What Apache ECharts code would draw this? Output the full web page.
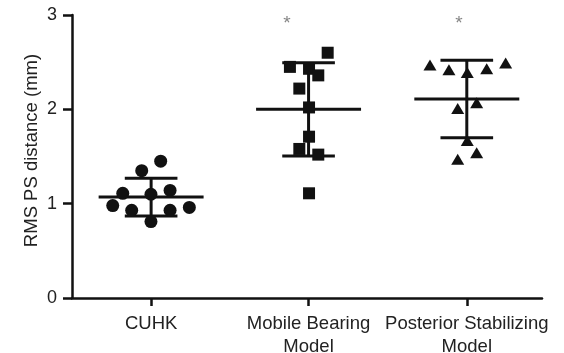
<!DOCTYPE html>
<html>
<head>
<meta charset="utf-8">
<script src="https://cdn.jsdelivr.net/npm/echarts@6/dist/echarts.min.js"></script>
<style>
  html, body { margin: 0; padding: 0; background: #fff; }
  #chart { width: 564px; height: 353px; }
</style>
</head>
<body>
<div id="chart"></div>
<script>
// groups on the x axis
var categories = ['CUHK', 'Mobile Bearing\nModel', 'Posterior Stabilizing\nModel'];
var centers = [0.505, 1.51, 2.52];
var yTicks = [0, 1, 2, 3];

// individual points [x position, RMS PS distance]
var cuhkX = [0.566, 0.445, 0.324, 0.504, 0.626, 0.260, 0.381, 0.626, 0.749, 0.504];
var cuhkY = [1.45, 1.35, 1.11, 1.10, 1.14, 0.98, 0.93, 0.93, 0.96, 0.81];
var mobileX = [1.632, 1.391, 1.513, 1.572, 1.451, 1.513, 1.513, 1.451, 1.572, 1.513];
var mobileY = [2.60, 2.45, 2.43, 2.36, 2.22, 2.02, 1.71, 1.58, 1.52, 1.11];
var postX = [2.285, 2.406, 2.523, 2.647, 2.768, 2.462, 2.583, 2.523, 2.462, 2.583];
var postY = [2.47, 2.42, 2.39, 2.43, 2.49, 2.01, 2.07, 1.67, 1.47, 1.54];

// mean and SD per group
var means = [1.07, 2.00, 2.11];
var sds = [0.20, 0.495, 0.41];

// significance marks
var starX = [1.372, 2.47];
var starY = [2.91, 2.91];

function pairs(xs, ys) {
    return xs.map(function (x, i) { return [x, ys[i]]; });
}

var textColor = '#222';
var ink = '#111';

var chart = echarts.init(document.getElementById('chart'));

var option = {
    animation: false,
    grid: { left: 72, right: 22, top: 15, bottom: 55, outerBoundsMode: 'none' },
    xAxis: {
        type: 'value',
        min: 0,
        max: 3,
        axisLine: { lineStyle: { color: ink, width: 2.5 } },
        axisTick: {
            customValues: centers,
            length: 8,
            lineStyle: { color: ink, width: 2.5 }
        },
        axisLabel: {
            customValues: centers,
            formatter: function (v) {
                var i = centers.indexOf(v);
                return i >= 0 ? categories[i] : '';
            },
            margin: 14,
            fontFamily: 'Liberation Sans',
            fontSize: 18.5,
            lineHeight: 23,
            color: textColor
        },
        splitLine: { show: false }
    },
    yAxis: {
        type: 'value',
        min: yTicks[0],
        max: yTicks[yTicks.length - 1],
        interval: 1,
        name: 'RMS PS distance (mm)',
        nameLocation: 'middle',
        nameGap: 31,
        nameMoveOverlap: false,
        nameTextStyle: {
            fontFamily: 'Liberation Sans',
            fontSize: 18.5,
            color: textColor,
            padding: [0, 0, 0, 12]
        },
        axisLine: { show: true, lineStyle: { color: ink, width: 2.5 } },
        axisTick: { show: true, length: 9, lineStyle: { color: ink, width: 2.5 } },
        axisLabel: {
            margin: 15,
            fontFamily: 'Liberation Sans',
            fontSize: 18,
            color: textColor
        },
        splitLine: { show: false }
    },
    series: [
        {
            type: 'custom',
            data: centers.map(function (c, i) { return [c, means[i], sds[i]]; }),
            renderItem: function (params, api) {
                var c = api.value(0), m = api.value(1), s = api.value(2);
                var style = { stroke: ink, lineWidth: 3 };
                var meanL = api.coord([c - 0.335, m]);
                var meanR = api.coord([c + 0.335, m]);
                var top = api.coord([c, m + s]);
                var bot = api.coord([c, m - s]);
                var capHalf = api.size([0.168, 0])[0];
                return {
                    type: 'group',
                    children: [
                        { type: 'line', shape: { x1: meanL[0], y1: meanL[1], x2: meanR[0], y2: meanR[1] }, style: style },
                        { type: 'line', shape: { x1: top[0], y1: top[1], x2: bot[0], y2: bot[1] }, style: style },
                        { type: 'line', shape: { x1: top[0] - capHalf, y1: top[1], x2: top[0] + capHalf, y2: top[1] }, style: style },
                        { type: 'line', shape: { x1: bot[0] - capHalf, y1: bot[1], x2: bot[0] + capHalf, y2: bot[1] }, style: style }
                    ]
                };
            },
            z: 3
        },
        {
            type: 'scatter',
            symbol: 'circle',
            symbolSize: 13,
            itemStyle: { color: ink, opacity: 1 },
            data: pairs(cuhkX, cuhkY),
            z: 4
        },
        {
            type: 'scatter',
            symbol: 'rect',
            symbolSize: 12,
            itemStyle: { color: ink, opacity: 1 },
            data: pairs(mobileX, mobileY),
            z: 4
        },
        {
            type: 'scatter',
            symbol: 'triangle',
            symbolSize: [13, 11],
            itemStyle: { color: ink, opacity: 1 },
            data: pairs(postX, postY),
            z: 4
        },
        {
            type: 'scatter',
            symbolSize: 0,
            data: pairs(starX, starY),
            label: {
                show: true,
                position: 'inside',
                formatter: '*',
                fontFamily: 'Liberation Sans',
                fontSize: 19,
                color: '#666'
            },
            z: 5
        }
    ]
};

chart.setOption(option);
</script>
</body>
</html>
